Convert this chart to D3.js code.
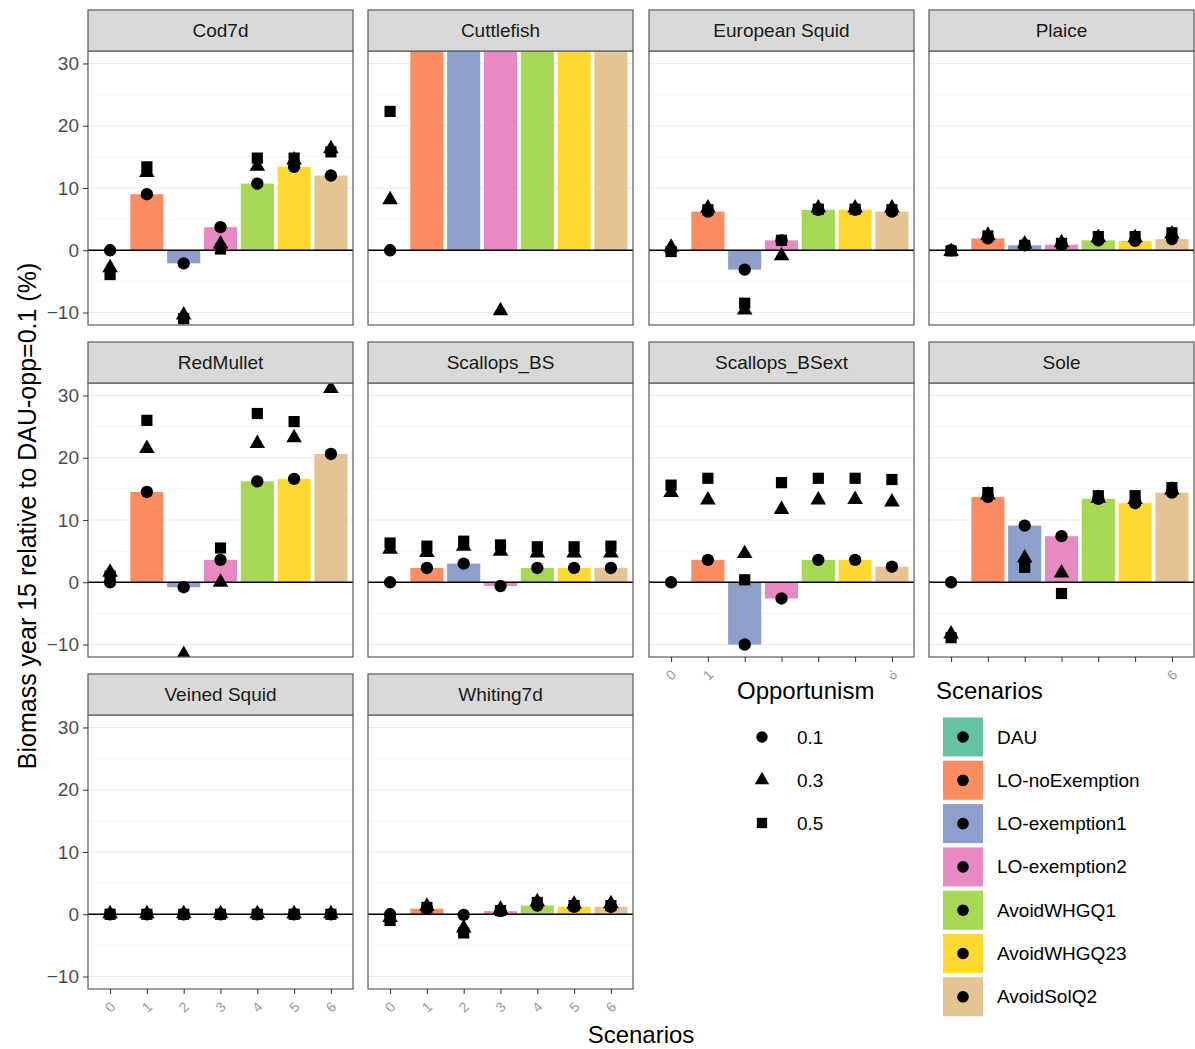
<!DOCTYPE html>
<html>
<head>
<meta charset="utf-8">
<script src="https://cdn.jsdelivr.net/npm/d3@7"></script>
<style>
  html, body { margin: 0; padding: 0; background: #fff; }
  svg { display: block; font-family: "Liberation Sans", Arial, sans-serif; }
</style>
</head>
<body>
<div id="chart"></div>
<script>
// ---- data ----------------------------------------------------------------
const scenarios = ["0", "1", "2", "3", "4", "5", "6"];
const scenarioNames = ["DAU", "LO-noExemption", "LO-exemption1", "LO-exemption2",
                       "AvoidWHGQ1", "AvoidWHGQ23", "AvoidSolQ2"];
const species = ["Cod7d", "Cuttlefish", "European Squid", "Plaice",
                 "RedMullet", "Scallops_BS", "Scallops_BSext", "Sole",
                 "Veined Squid", "Whiting7d"];
const opportunism = ["0.1", "0.3", "0.5"];
const yTicks = [-10, 0, 10, 20, 30];

// Biomass change (%) per species (rows) and scenario (columns), one array per opportunism level
const opp01 = [
  [0, 9.0, -2.1, 3.7, 10.7, 13.4, 12.0],
  [0, 58, 55, 57, 62, 60, 59],
  [0, 6.2, -3.1, 1.6, 6.5, 6.5, 6.2],
  [0, 1.9, 0.8, 0.9, 1.6, 1.5, 1.8],
  [0, 14.5, -0.8, 3.6, 16.2, 16.6, 20.6],
  [0, 2.3, 3.0, -0.6, 2.3, 2.3, 2.3],
  [0, 3.6, -10.0, -2.6, 3.6, 3.6, 2.5],
  [0, 13.7, 9.1, 7.4, 13.4, 12.7, 14.4],
  [0, 0, 0, 0, 0, 0, 0],
  [0, 0.9, -0.1, 0.5, 1.4, 1.2, 1.2]
];
const opp03 = [
  [-2.8, 12.5, -10.4, 1.0, 13.5, 14.5, 16.3],
  [8.1, 75, 70, -9.7, 78, 77, 74],
  [0.5, 6.8, -9.6, -0.9, 6.8, 6.8, 6.8],
  [-0.2, 2.4, 1.0, 1.2, 2.0, 2.0, 2.6],
  [1.6, 21.5, -11.6, 0.0, 22.3, 23.2, 31.1],
  [5.3, 4.8, 5.8, 5.0, 4.7, 4.7, 4.7],
  [14.4, 13.2, 4.6, 11.7, 13.2, 13.3, 12.9],
  [-8.3, 14.0, 3.9, 1.5, 13.5, 13.3, 14.8],
  [0.1, 0.1, 0.1, 0.1, 0.1, 0.1, 0.1],
  [-0.5, 1.3, -2.2, 0.8, 2.0, 1.6, 1.7]
];
const opp05 = [
  [-3.9, 13.4, -11.0, 0.2, 14.8, 14.8, 15.8],
  [22.3, 90, 85, 88, 93, 92, 89],
  [-0.2, 6.5, -8.5, 1.6, 6.6, 6.6, 6.5],
  [-0.1, 2.3, 0.8, 1.1, 2.2, 2.2, 2.8],
  [1.0, 26.0, -14.0, 5.5, 27.1, 25.8, 36.0],
  [6.3, 5.8, 6.6, 6.0, 5.7, 5.7, 5.8],
  [15.6, 16.7, 0.4, 16.0, 16.7, 16.7, 16.5],
  [-8.9, 14.4, 2.4, -1.8, 13.9, 13.9, 15.2],
  [0, 0, 0, 0, 0, 0, 0],
  [-1.0, 1.1, -3.0, 0.6, 1.9, 1.4, 1.4]
];

// ---- styling ---------------------------------------------------------------
const palette = ["#66C2A5", "#FC8D62", "#8DA0CB", "#E78AC3", "#A6D854", "#FFD92F", "#E5C494"];
const shapes = [d3.symbolCircle, d3.symbolTriangle, d3.symbolSquare];
const shapeSizes = [120, 105, 125];

const W = 1195, H = 1049;
const colLeft = [88, 368, 649, 929];
const panelW = 265;
const stripTop = [10, 342, 674];
const stripH = 41;
const panelH = 274;

const svg = d3.select("#chart").append("svg")
  .attr("width", W).attr("height", H);

const x = d3.scalePoint().domain(scenarios).range([0, panelW]).padding(0.6);
const barW = x.step() * 0.9;
const y = d3.scaleLinear().domain([-12, 32]).range([panelH, 0]);
const colour = d3.scaleOrdinal().domain(scenarios).range(palette);

const series = [opp01, opp03, opp05];

species.forEach((name, i) => {
  const col = i % 4, row = Math.floor(i / 4);
  const px = colLeft[col], sy = stripTop[row], py = sy + stripH;
  const g = svg.append("g").attr("transform", `translate(${px},${py})`);

  // clip marks to the panel
  const clipId = "clip" + i;
  svg.append("clipPath").attr("id", clipId)
    .append("rect").attr("width", panelW).attr("height", panelH);

  g.append("rect").attr("width", panelW).attr("height", panelH).attr("fill", "#fff");

  // grid lines
  const minor = [-5, 5, 15, 25];
  g.selectAll(".gmin").data(minor).enter().append("line")
    .attr("x1", 0).attr("x2", panelW)
    .attr("y1", d => y(d)).attr("y2", d => y(d))
    .attr("stroke", "#f4f4f4").attr("stroke-width", 0.7);
  g.selectAll(".gmaj").data(yTicks).enter().append("line")
    .attr("x1", 0).attr("x2", panelW)
    .attr("y1", d => y(d)).attr("y2", d => y(d))
    .attr("stroke", "#ececec").attr("stroke-width", 1.1);

  const inner = g.append("g").attr("clip-path", `url(#${clipId})`);

  // bars (opportunism 0.1)
  inner.selectAll(".bar").data(scenarios).enter().append("rect")
    .attr("x", d => x(d) - barW / 2)
    .attr("width", barW)
    .attr("y", (d, j) => y(Math.max(0, opp01[i][j])))
    .attr("height", (d, j) => Math.abs(y(opp01[i][j]) - y(0)))
    .attr("fill", d => colour(d));

  // zero line
  inner.append("line")
    .attr("x1", 0).attr("x2", panelW)
    .attr("y1", y(0)).attr("y2", y(0))
    .attr("stroke", "#000").attr("stroke-width", 1.6);

  // points for each opportunism level
  series.forEach((s, k) => {
    inner.selectAll(".pt" + k).data(scenarios).enter().append("path")
      .attr("d", d3.symbol().type(shapes[k]).size(shapeSizes[k]))
      .attr("transform", (d, j) => `translate(${x(d)},${y(s[i][j])})`)
      .attr("fill", "#000");
  });

  // panel border
  g.append("rect").attr("width", panelW).attr("height", panelH)
    .attr("fill", "none").attr("stroke", "#5a5a5a").attr("stroke-width", 1.2);

  // strip
  svg.append("rect").attr("x", px).attr("y", sy).attr("width", panelW).attr("height", stripH)
    .attr("fill", "#d9d9d9").attr("stroke", "#5a5a5a").attr("stroke-width", 1.2);
  svg.append("text").attr("x", px + panelW / 2).attr("y", sy + stripH / 2)
    .attr("text-anchor", "middle").attr("dominant-baseline", "central")
    .attr("font-size", 19).attr("fill", "#1a1a1a").text(name);

  // y axis on the left column
  if (col === 0) {
    const ya = g.append("g").call(d3.axisLeft(y).tickValues(yTicks).tickSize(5).tickPadding(4));
    ya.select(".domain").remove();
    ya.selectAll("line").attr("stroke", "#333");
    ya.selectAll("text").attr("font-size", 19).attr("fill", "#4d4d4d")
      .attr("font-family", "Liberation Sans, Arial, sans-serif");
  }

  // x axis where no panel sits below
  if (i + 4 >= species.length) {
    const xa = g.append("g").attr("transform", `translate(0,${panelH})`)
      .call(d3.axisBottom(x).tickSize(5).tickFormat(""));
    xa.select(".domain").remove();
    xa.selectAll("line").attr("stroke", "#333");
    g.selectAll(".xlab").data(scenarios).enter().append("text")
      .attr("transform", d => `translate(${x(d)},${panelH + 18}) rotate(-45)`)
      .attr("text-anchor", "middle").attr("dominant-baseline", "central")
      .attr("font-size", 14).attr("fill", "#999").text(d => d);
  }
});

// axis titles
svg.append("text")
  .attr("transform", "translate(27,516) rotate(-90)")
  .attr("text-anchor", "middle").attr("dominant-baseline", "central")
  .attr("font-size", 25).attr("fill", "#000")
  .text("Biomass year 15 relative to DAU-opp=0.1 (%)");
svg.append("text")
  .attr("x", (colLeft[0] + colLeft[3] + panelW) / 2).attr("y", 1043)
  .attr("text-anchor", "middle")
  .attr("font-size", 24).attr("fill", "#000").text("Scenarios");

// legend: opportunism shapes
const lg1 = svg.append("g").attr("transform", "translate(728,668)");
lg1.append("rect").attr("width", 162).attr("height", 180).attr("fill", "#fff");
lg1.append("text").attr("x", 9).attr("y", 22).attr("dominant-baseline", "central")
  .attr("font-size", 24).attr("fill", "#000").text("Opportunism");
opportunism.forEach((o, k) => {
  const cy = 69 + k * 43;
  lg1.append("path").attr("d", d3.symbol().type(shapes[k]).size(shapeSizes[k] * 0.85))
    .attr("transform", `translate(34,${cy})`).attr("fill", "#000");
  lg1.append("text").attr("x", 69).attr("y", cy).attr("dominant-baseline", "central")
    .attr("font-size", 19).attr("fill", "#000").text(o);
});

// legend: scenario colours
const lg2 = svg.append("g").attr("transform", "translate(926,668)");
lg2.append("rect").attr("width", 232).attr("height", 356).attr("fill", "#fff");
lg2.append("text").attr("x", 10).attr("y", 22).attr("dominant-baseline", "central")
  .attr("font-size", 24).attr("fill", "#000").text("Scenarios");
scenarioNames.forEach((n, k) => {
  const cy = 69 + k * 43.3;
  lg2.append("rect").attr("x", 17).attr("y", cy - 19.5).attr("width", 40).attr("height", 39)
    .attr("fill", colour(scenarios[k]));
  lg2.append("circle").attr("cx", 37).attr("cy", cy).attr("r", 5.8).attr("fill", "#000");
  lg2.append("text").attr("x", 71).attr("y", cy).attr("dominant-baseline", "central")
    .attr("font-size", 19).attr("fill", "#000").text(n);
});
</script>
</body>
</html>
